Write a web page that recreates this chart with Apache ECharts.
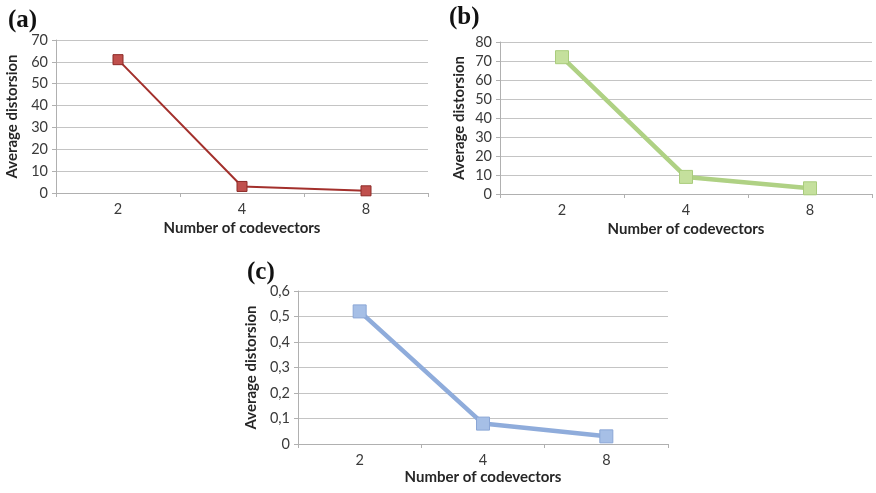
<!DOCTYPE html>
<html>
<head>
<meta charset="utf-8">
<script src="https://cdn.jsdelivr.net/npm/echarts@6/dist/echarts.min.js"></script>
<style>
  html, body { margin: 0; padding: 0; background: #fff; }
  #chart { width: 876px; height: 493px; }
</style>
</head>
<body>
<div id="chart"></div>
<script>
// Codebook sizes on the x axis
const codevectors = ['2', '4', '8'];

// Average distorsion for each panel
const distortionA = [61, 3, 1];
const distortionB = [72, 9, 3];
const distortionC = [0.52, 0.08, 0.03];

// Y-axis ranges for each panel
const yMaxA = 70, yStepA = 10;
const yMaxB = 80, yStepB = 10;
const yMaxC = 0.6, yStepC = 0.1;

const panelLabels = ['(a)', '(b)', '(c)'];
const xTitle = 'Number of codevectors';
const yTitle = 'Average distorsion';

const labelFont = 'Lato, "Open Sans", sans-serif';
const textColor = '#3a3a3a';
const gridColor = '#c4c4c4';

function xAxisFor(gridIndex, gap) {
  return {
    type: 'category', gridIndex, data: codevectors, boundaryGap: true,
    name: xTitle, nameLocation: 'middle', nameGap: gap,
    nameTextStyle: { fontFamily: labelFont, fontSize: 15, fontWeight: 'bold', color: '#262626' },
    axisLine: { lineStyle: { color: '#b0b0b0', width: 1 } },
    axisTick: { show: true, alignWithLabel: false, length: 4, lineStyle: { color: '#b0b0b0' } },
    axisLabel: { fontFamily: labelFont, fontSize: 14.5, color: textColor, margin: 9 },
    splitLine: { show: false }
  };
}

function yAxisFor(gridIndex, max, step, gap, fmt) {
  return {
    type: 'value', gridIndex, min: 0, max, interval: step,
    name: yTitle, nameLocation: 'middle', nameGap: gap, nameRotate: 90,
    nameTextStyle: { fontFamily: labelFont, fontSize: 15, fontWeight: 'bold', color: '#262626' },
    axisLine: { show: true, lineStyle: { color: '#b0b0b0', width: 1 } },
    axisTick: { show: true, length: 4, inside: false, lineStyle: { color: '#b0b0b0' } },
    axisLabel: { fontFamily: labelFont, fontSize: 14.5, color: textColor, margin: 8, formatter: fmt },
    splitLine: { show: true, lineStyle: { color: gridColor, width: 1 } }
  };
}

function lineSeries(idx, data, lineColor, lineWidth, fill, border, size) {
  return {
    type: 'line', xAxisIndex: idx, yAxisIndex: idx, data,
    symbol: 'rect', symbolSize: size, showSymbol: true,
    lineStyle: { color: lineColor, width: lineWidth },
    itemStyle: { color: fill, borderColor: border, borderWidth: 1 },
    emphasis: { disabled: true },
    animation: false
  };
}

const chart = echarts.init(document.getElementById('chart'), null, { renderer: 'canvas' });

chart.setOption({
  backgroundColor: '#ffffff',
  animation: false,
  title: [
    { text: panelLabels[0], left: 3, top: 3 },
    { text: panelLabels[1], left: 444, top: 0 },
    { text: panelLabels[2], left: 242, top: 255 }
  ].map(t => Object.assign(t, {
    textStyle: { fontFamily: '"Liberation Serif", "DejaVu Serif", serif', fontSize: 25, fontWeight: 'bold', color: '#111' }
  })),
  grid: [
    { left: 56, top: 40, width: 372, height: 153 },
    { left: 500, top: 42, width: 372, height: 152 },
    { left: 298, top: 291, width: 370, height: 153 }
  ],
  xAxis: [
    xAxisFor(0, 28),
    xAxisFor(1, 28),
    xAxisFor(2, 26)
  ],
  yAxis: [
    yAxisFor(0, yMaxA, yStepA, 36, v => String(v)),
    yAxisFor(1, yMaxB, yStepB, 33, v => String(v)),
    yAxisFor(2, yMaxC, yStepC, 39, v => (Math.round(v * 10) / 10).toString().replace('.', ','))
  ],
  series: [
    lineSeries(0, distortionA, '#a3302c', 2, '#c0504d', '#8c2a27', 10),
    lineSeries(1, distortionB, '#afd184', 4.5, '#c5e09d', '#a9cc7c', 13),
    lineSeries(2, distortionC, '#8facdb', 4.5, '#a6bfe6', '#8aa6d6', 13)
  ]
});
</script>
</body>
</html>
